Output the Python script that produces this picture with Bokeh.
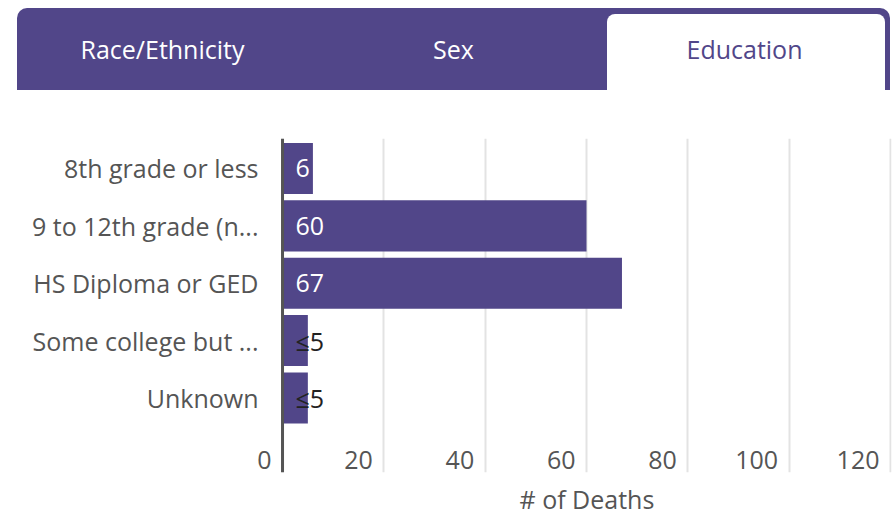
from bokeh.plotting import figure
from bokeh.models import Range1d, FixedTicker, ColumnDataSource, Div, Title, Span
from bokeh.layouts import column
from bokeh.embed import file_html
from bokeh.resources import INLINE
from bokeh.core.properties import value

# ---- data ----
tabs = ["Race/Ethnicity", "Sex", "Education"]
active_tab = "Education"
categories = ["8th grade or less", "9 to 12th grade (n...", "HS Diploma or GED",
              "Some college but ...", "Unknown"]
deaths = [6, 60, 67, 5, 5]
bar_labels = ["6", "60", "67", "≤5", "≤5"]
x_ticks = [0, 20, 40, 60, 80, 100, 120]
x_title = "# of Deaths"

# ---- styles ----
PURPLE = "#514689"
TEXT = "#555555"
FONT = "Open Sans"
W = 892
TAB_H = 100
CHART_H = 423
FRAME_L = 254

# ---- tab strip (HTML) ----
strip_l, strip_t, strip_w, strip_h = 17, 8, 873, 82
tw = strip_w / len(tabs)
ai = tabs.index(active_tab)
parts = [f'<div style="position:relative;width:{W}px;height:{TAB_H}px;'
         f'font-family:\'{FONT}\';margin:0;padding:0;">',
         f'<div style="position:absolute;left:{strip_l}px;top:{strip_t}px;width:{strip_w}px;'
         f'height:{strip_h}px;background:{PURPLE};border-radius:10px 10px 0 0;"></div>',
         f'<div style="position:absolute;left:{strip_l + tw * ai + 8:.0f}px;top:{strip_t + 6}px;'
         f'width:{tw - 13:.0f}px;height:{strip_h - 6}px;background:white;'
         f'border-radius:8px 8px 0 0;"></div>']
for i, t in enumerate(tabs):
    col = PURPLE if t == active_tab else "white"
    parts.append(f'<div style="position:absolute;left:{strip_l + tw * i:.1f}px;top:{strip_t}px;'
                 f'width:{tw:.1f}px;height:{strip_h}px;display:flex;align-items:center;'
                 f'justify-content:center;color:{col};font-size:25px;line-height:normal;">{t}</div>')
parts.append('</div>')
tab_div = Div(text="".join(parts), width=W, height=TAB_H,
              styles={"margin": "0", "padding": "0"})

# ---- bar chart ----
ys = list(range(len(categories)))
src = ColumnDataSource(dict(
    y=ys, v=deaths, label=bar_labels,
    color=["#222222" if l.startswith("≤") else "white" for l in bar_labels],
))
p = figure(width=W, height=CHART_H, x_range=Range1d(-5.53, 120.2), y_range=Range1d(5.30, -0.523),
           output_backend="svg", toolbar_location=None,
           min_border_left=FRAME_L, min_border_right=1, min_border_top=38, min_border_bottom=51)
p.outline_line_color = None
p.ygrid.visible = False
p.xaxis.visible = False
p.xgrid.ticker = FixedTicker(ticks=x_ticks)
p.xgrid.grid_line_color = "#e3e3e3"
p.xgrid.grid_line_width = 2

p.yaxis.ticker = FixedTicker(ticks=ys)
p.yaxis.major_label_overrides = {i: c for i, c in enumerate(categories)}
p.yaxis.axis_line_color = None
p.yaxis.axis_line_width = 3
p.yaxis.major_tick_line_color = None
p.yaxis.minor_tick_line_color = None
p.yaxis.major_label_standoff = -10
p.yaxis.major_label_text_font = FONT
p.yaxis.major_label_text_font_size = "25px"
p.yaxis.major_label_text_color = TEXT

p.add_layout(Title(text=x_title, align="left", offset=519 - FRAME_L, text_font=FONT,
                   text_font_size="25px", text_font_style="normal", text_color=TEXT,
                   standoff=15), "below")

p.xgrid.level = "underlay"
p.hbar(y="y", left=0, right="v", height=0.89, source=src,
       fill_color=PURPLE, line_color=None)
p.add_layout(Span(location=0, dimension="height", line_color="#555555", line_width=3))
p.text(x=0, y="y", text="label", source=src, x_offset=13,
       text_align="left", text_baseline="middle", text_color="color",
       text_font=value(FONT), text_font_size="25px")

p.text(x=x_ticks, y=[5.09] * len(x_ticks), text=[str(t) for t in x_ticks],
       x_offset=-11, text_align="right", text_baseline="middle",
       text_color=TEXT, text_font=value(FONT), text_font_size="25px")

layout = column(tab_div, p, spacing=0)
open("out.html", "w").write(file_html(layout, INLINE))
